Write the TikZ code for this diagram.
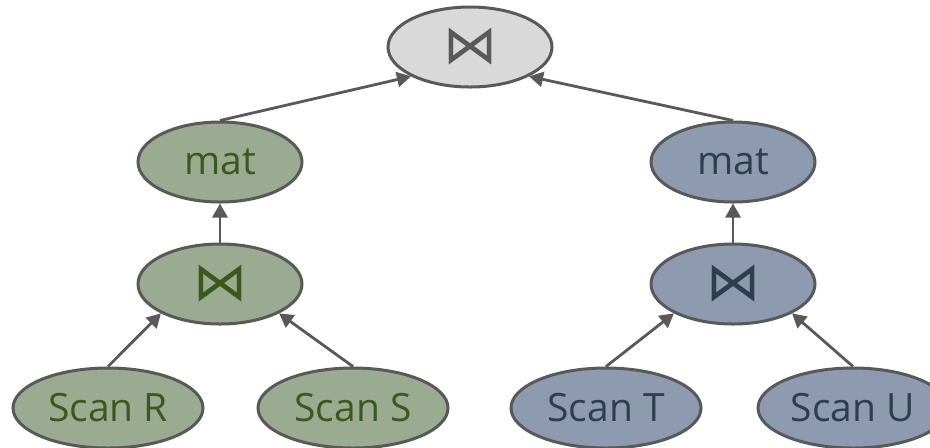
\documentclass[tikz,border=0pt]{standalone}
\usepackage{fontspec}
\setmainfont{Open Sans}
\newfontfamily\joinfont{DejaVu Sans}
\usetikzlibrary{shapes.geometric,arrows.meta}
\definecolor{edgegray}{HTML}{595959}
\definecolor{topfill}{HTML}{D9D9D9}
\definecolor{greenfill}{HTML}{9BAB92}
\definecolor{greentext}{HTML}{3A5A1C}
\definecolor{bluefill}{HTML}{8D9AB0}
\definecolor{bluetext}{HTML}{2E3D50}
\begin{document}
\begin{tikzpicture}[x=0.5pt,y=-0.5pt,
	op/.style={ellipse,draw=edgegray,line width=1.5pt,inner sep=0pt,minimum width=82pt,minimum height=40pt,font=\fontsize{19.5}{22}\selectfont},
	scan/.style={op,minimum width=95pt},
	topop/.style={op,fill=topfill,text=edgegray},
	greenop/.style={fill=greenfill,text=greentext},
	blueop/.style={fill=bluefill,text=bluetext},
	arr/.style={draw=edgegray,line width=1.4pt,-{Triangle[length=7pt,width=7.5pt]}}]
	\useasboundingbox (0,0) rectangle (930,447);
	% root
	\node[topop] (root) at (470,47) {\joinfont\fontsize{27}{27}\selectfont ⋈};
	% left branch
	\node[op,greenop] (lmat) at (220,162) {mat};
	\node[op,greenop] (ljoin) at (220,284) {\joinfont\fontsize{27}{27}\selectfont ⋈};
	\node[scan,greenop] (scanR) at (108,408) {Scan R};
	\node[scan,greenop] (scanS) at (353,408) {Scan S};
	% right branch
	\node[op,blueop] (rmat) at (733,162) {mat};
	\node[op,blueop] (rjoin) at (733,284) {\joinfont\fontsize{27}{27}\selectfont ⋈};
	\node[scan,blueop] (scanT) at (606,408) {Scan T};
	\node[scan,blueop] (scanU) at (853,408) {Scan U};
	
	\draw[arr] (scanR.north) -- (ljoin.south west);
	\draw[arr] (scanS.north) -- (ljoin.south east);
	\draw[arr] (scanT.north) -- (rjoin.south west);
	\draw[arr] (scanU.north) -- (rjoin.south east);
	\draw[arr] (ljoin) -- (lmat);
	\draw[arr] (rjoin) -- (rmat);
	\draw[arr] (lmat.north) -- (root.south west);
	\draw[arr] (rmat.north) -- (root.south east);
\end{tikzpicture}
\end{document}
